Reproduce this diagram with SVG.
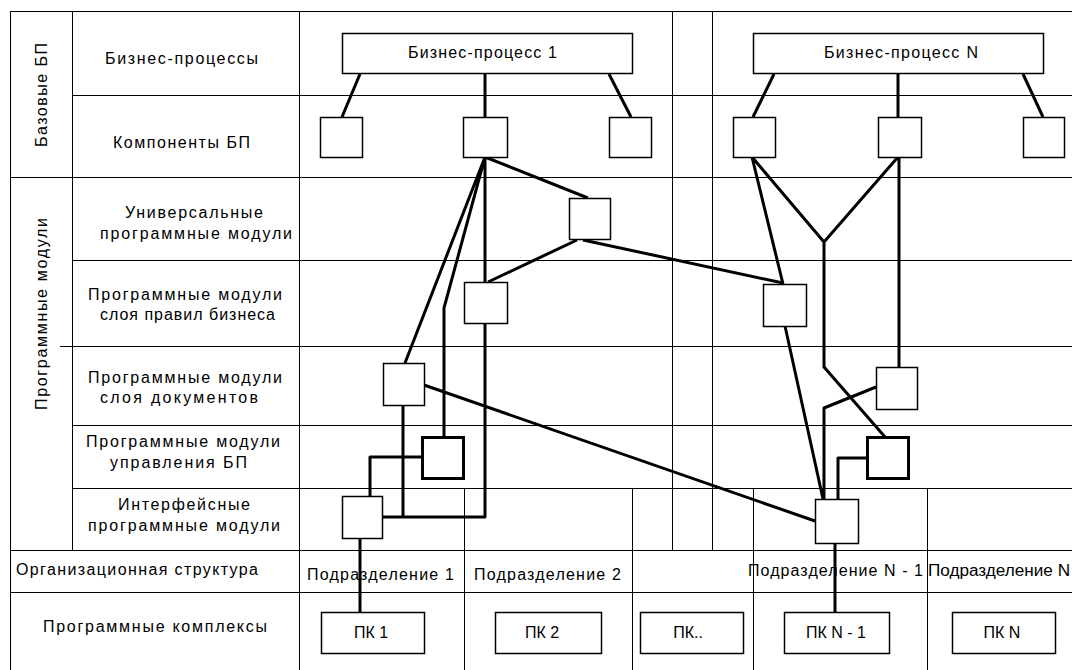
<svg xmlns="http://www.w3.org/2000/svg" width="1072" height="670" viewBox="0 0 1072 670">
<style>
.grid{stroke:#000;stroke-width:1;fill:none}
.box{fill:#fff;stroke:#000;stroke-width:1.5}
.tbox{fill:#fff;stroke:#000;stroke-width:3}
.conn{stroke:#000;stroke-width:3;fill:none;stroke-linejoin:round}
text{font-family:"Liberation Sans",Arial,sans-serif;font-size:16px;fill:#000}
.c{text-anchor:middle}
</style>
<rect width="1072" height="670" fill="#fff"/>
<g id="table">
<path class="grid" d="M10 11.5H1072M72 95.5H1072M10 177.5H1072M72 260.5H1072M60 346.5H1072M72 425.5H1072M72 488.5H1072M10 550.5H1072M10 592.5H1072"/>
<path class="grid" d="M10.5 11V670M72.5 11V550M299.5 11V670M672.5 11V550M712.5 11V550M464.5 488V670M632.5 488V670M753.5 488V670M927.5 488V670"/>
<text transform="translate(47,95) rotate(-90)" text-anchor="middle" textLength="104" lengthAdjust="spacing">Базовые БП</text>
<text transform="translate(47,314) rotate(-90)" text-anchor="middle" textLength="192" lengthAdjust="spacing">Программные модули</text>
<text x="105" y="64" textLength="153" lengthAdjust="spacing">Бизнес-процессы</text>
<text x="113" y="148" textLength="137" lengthAdjust="spacing">Компоненты БП</text>
<text x="125" y="218" textLength="138" lengthAdjust="spacing">Универсальные</text>
<text x="100" y="239" textLength="192" lengthAdjust="spacing">программные модули</text>
<text x="88" y="300" textLength="194" lengthAdjust="spacing">Программные модули</text>
<text x="100" y="320" textLength="175" lengthAdjust="spacing">слоя правил бизнеса</text>
<text x="88" y="383" textLength="194" lengthAdjust="spacing">Программные модули</text>
<text x="100" y="403" textLength="158" lengthAdjust="spacing">слоя документов</text>
<text x="86" y="447" textLength="194" lengthAdjust="spacing">Программные модули</text>
<text x="110" y="468" textLength="137" lengthAdjust="spacing">управления БП</text>
<text x="118" y="510" textLength="132" lengthAdjust="spacing">Интерфейсные</text>
<text x="88" y="531" textLength="192" lengthAdjust="spacing">программные модули</text>
<text x="16" y="575" textLength="242" lengthAdjust="spacing">Организационная структура</text>
<text x="43" y="632" textLength="224" lengthAdjust="spacing">Программные комплексы</text>
<text x="307" y="580" textLength="147" lengthAdjust="spacing">Подразделение 1</text>
<text x="474" y="580" textLength="147" lengthAdjust="spacing">Подразделение 2</text>
<text x="748" y="576" textLength="175" lengthAdjust="spacing">Подразделение N - 1</text>
<text x="928" y="576" textLength="142" lengthAdjust="spacingAndGlyphs">Подразделение N</text>
</g>
<g id="connectors">
<path class="conn" d="M360 74L342 117M485 73V117M609 74L631 117M774 74L753 117M898 73V117M1023 74L1043 117"/>
<path class="conn" d="M485 157L588 198M485 157V282M485 323V517H382M485 157L405 363M485 157L444 308V437M488 282L577 240M583 240L783 283M403 405V517M422 457H370V496M360 538V612M424 385L815 521"/>
<path class="conn" d="M752 157L783 284M752 157L824 242M898 157L824 242V367L885 437M899 157V367M785 326L823 499M876 387L824 408V499M867 458H838V499M835 543V612"/>
</g>
<g id="bp1"><rect class="box" x="342.5" y="33.5" width="290" height="40"/><text x="408" y="58" textLength="149" lengthAdjust="spacing">Бизнес-процесс 1</text></g>
<g id="bpN"><rect class="box" x="753.5" y="33.5" width="290" height="40"/><text x="824" y="58" textLength="154" lengthAdjust="spacing">Бизнес-процесс N</text></g>
<g id="c1a"><rect class="box" x="320.5" y="117.5" width="42" height="40"/></g>
<g id="c1b"><rect class="box" x="463.5" y="117.5" width="44" height="40"/></g>
<g id="c1c"><rect class="box" x="609.5" y="117.5" width="42" height="40"/></g>
<g id="cNa"><rect class="box" x="733.5" y="117.5" width="42" height="40"/></g>
<g id="cNb"><rect class="box" x="878.5" y="117.5" width="43" height="40"/></g>
<g id="cNc"><rect class="box" x="1023.5" y="117.5" width="41" height="40"/></g>
<g id="univ"><rect class="box" x="569.5" y="198.5" width="41" height="41"/></g>
<g id="rules1"><rect class="box" x="464.5" y="282.5" width="43" height="41"/></g>
<g id="rulesN"><rect class="box" x="763.5" y="284.5" width="43" height="42"/></g>
<g id="docs1"><rect class="box" x="383.5" y="363.5" width="41" height="42"/></g>
<g id="docsN"><rect class="box" x="876.5" y="367.5" width="41" height="42"/></g>
<g id="mgmt1"><rect class="tbox" x="422.5" y="437.5" width="41" height="41"/></g>
<g id="mgmtN"><rect class="tbox" x="867.5" y="437.5" width="41" height="41"/></g>
<g id="ui1"><rect class="box" x="342.5" y="496.5" width="40" height="42"/></g>
<g id="uiN"><rect class="box" x="815.5" y="499.5" width="43" height="44"/></g>
<g id="pk1"><rect class="box" x="321.5" y="612.5" width="103" height="41"/><text class="c" x="371" y="638">ПК 1</text></g>
<g id="pk2"><rect class="box" x="495.5" y="612.5" width="106" height="41"/><text class="c" x="542" y="638">ПК 2</text></g>
<g id="pkdots"><rect class="box" x="640.5" y="612.5" width="103" height="41"/><text class="c" x="688" y="638">ПК..</text></g>
<g id="pkN1"><rect class="box" x="784.5" y="612.5" width="105" height="41"/><text class="c" x="836" y="638">ПК N - 1</text></g>
<g id="pkN"><rect class="box" x="952.5" y="612.5" width="103" height="41"/><text class="c" x="1002" y="638">ПК N</text></g>
</svg>
